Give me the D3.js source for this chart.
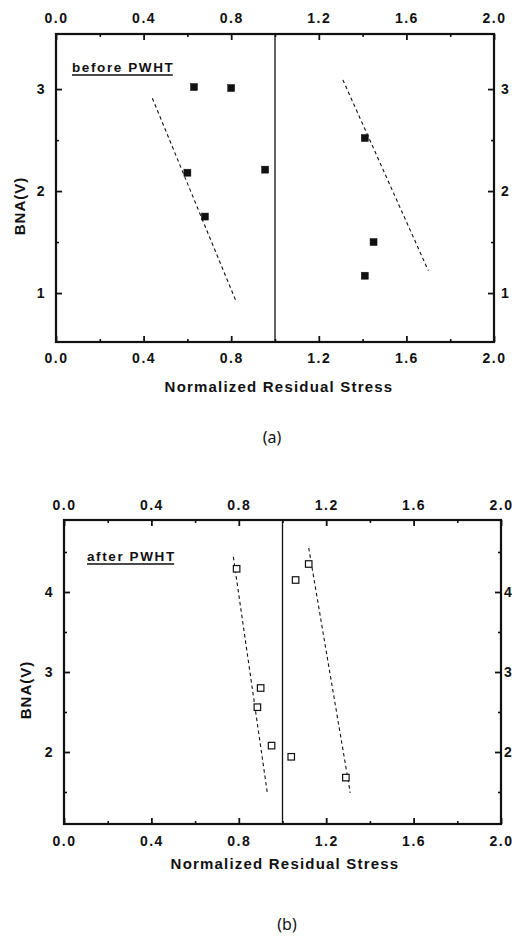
<!DOCTYPE html>
<html>
<head>
<meta charset="utf-8">
<script src="https://cdn.jsdelivr.net/npm/d3@7"></script>
<style>
  html, body { margin: 0; padding: 0; background: #fff; }
  svg { display: block; }
  .tick text { font-family: "Liberation Sans", Arial, sans-serif; font-weight: bold; font-size: 14px; letter-spacing: 1.5px; fill: #111; }
</style>
</head>
<body>
<svg id="chart" width="514" height="938"></svg>
<script>
// ---------- data ----------
const xMajorTicks = [0.0, 0.4, 0.8, 1.2, 1.6, 2.0];
const xMinorTicks = [0.2, 0.6, 1.0, 1.4, 1.8];
const xTickLabels = ["0.0", "0.4", "0.8", "1.2", "1.6", "2.0"];

// (a) before PWHT
const beforeYTicks = [1, 2, 3];
const beforeYMinor = [1.5, 2.5];
const beforeX = [0.63, 0.80, 0.60, 0.955, 0.68, 1.41, 1.45, 1.41];
const beforeY = [3.02, 3.01, 2.18, 2.21, 1.75, 2.52, 1.50, 1.17];
const beforeFitLowX = [0.44, 0.82];
const beforeFitLowY = [2.91, 0.93];
const beforeFitHighX = [1.31, 1.70];
const beforeFitHighY = [3.09, 1.22];

// (b) after PWHT
const afterYTicks = [2, 3, 4];
const afterYMinor = [1.5, 2.5, 3.5, 4.5];
const afterX = [0.79, 1.06, 1.12, 0.90, 0.885, 0.95, 1.04, 1.29];
const afterY = [4.29, 4.15, 4.35, 2.80, 2.56, 2.08, 1.94, 1.68];
const afterFitLowX = [0.775, 0.93];
const afterFitLowY = [4.44, 1.50];
const afterFitHighX = [1.12, 1.31];
const afterFitHighY = [4.55, 1.49];

const xTitle = "Normalized Residual Stress";
const yTitle = "BNA(V)";

// ---------- drawing ----------
const svg = d3.select("#chart");
const FONT = '"Liberation Sans", Arial, sans-serif';

function panel(cfg) {
  const x = d3.scaleLinear().domain([0, 2]).range([cfg.left, cfg.right]);
  const y = d3.scaleLinear().domain(cfg.yDomain).range([cfg.bottom, cfg.top]);
  const g = svg.append("g");
  const fmt = (d, i) => xTickLabels[xMajorTicks.indexOf(d)];

  // minor ticks
  const minorAxes = [
    [d3.axisBottom(x).tickValues(xMinorTicks), `translate(0,${cfg.bottom})`],
    [d3.axisTop(x).tickValues(xMinorTicks), `translate(0,${cfg.top})`],
    [d3.axisLeft(y).tickValues(cfg.yMinor), `translate(${cfg.left},0)`],
    [d3.axisRight(y).tickValues(cfg.yMinor), `translate(${cfg.right},0)`]
  ];
  minorAxes.forEach(([ax, tr]) => {
    const a = g.append("g").attr("transform", tr)
      .call(ax.tickSizeInner(-3).tickSizeOuter(0).tickFormat(""));
    a.select(".domain").remove();
    a.selectAll(".tick line").attr("stroke", "#111").attr("stroke-width", 1.6);
  });

  const xb = g.append("g").attr("transform", `translate(0,${cfg.bottom})`)
    .call(d3.axisBottom(x).tickValues(xMajorTicks).tickFormat(fmt)
      .tickSizeInner(-6).tickSizeOuter(0).tickPadding(cfg.xbPad));
  const xt = g.append("g").attr("transform", `translate(0,${cfg.top})`)
    .call(d3.axisTop(x).tickValues(xMajorTicks).tickFormat(fmt)
      .tickSizeInner(-6).tickSizeOuter(0).tickPadding(cfg.xtPad));
  const yl = g.append("g").attr("transform", `translate(${cfg.left},0)`)
    .call(d3.axisLeft(y).tickValues(cfg.yTicks).tickFormat(d3.format("d"))
      .tickSizeInner(-6).tickSizeOuter(0).tickPadding(10));
  const yr = g.append("g").attr("transform", `translate(${cfg.right},0)`)
    .call(d3.axisRight(y).tickValues(cfg.yTicks).tickFormat(d3.format("d"))
      .tickSizeInner(-6).tickSizeOuter(0).tickPadding(cfg.yrPad));
  [xb, xt, yl, yr].forEach(a => {
    a.select(".domain").remove();
    a.selectAll(".tick line").attr("stroke", "#111").attr("stroke-width", 1.8);
    a.attr("font-family", null).attr("font-size", null);
  });
  yr.selectAll(".tick text").style("letter-spacing", "0px");

  // frame
  g.append("rect")
    .attr("x", cfg.left).attr("y", cfg.top)
    .attr("width", cfg.right - cfg.left).attr("height", cfg.bottom - cfg.top)
    .attr("fill", "none").attr("stroke", "#111").attr("stroke-width", 2.2);

  // vertical reference line at x = 1.0
  g.append("line")
    .attr("x1", x(1)).attr("x2", x(1))
    .attr("y1", cfg.top).attr("y2", cfg.bottom)
    .attr("stroke", "#111").attr("stroke-width", 1.3);

  // dashed fit lines
  const line = d3.line().x(d => x(d[0])).y(d => y(d[1]));
  cfg.fits.forEach(f => {
    g.append("path")
      .attr("d", line(d3.zip(f[0], f[1])))
      .attr("fill", "none").attr("stroke", "#111")
      .attr("stroke-width", 1.1).attr("stroke-dasharray", "3.5,3");
  });

  // markers
  const s = cfg.filled ? 7 : 6.5;
  g.selectAll("rect.pt").data(d3.zip(cfg.xs, cfg.ys)).enter()
    .append("rect").attr("class", "pt")
    .attr("x", d => x(d[0]) - s / 2).attr("y", d => y(d[1]) - s / 2)
    .attr("width", s).attr("height", s)
    .attr("fill", cfg.filled ? "#111" : "#fff")
    .attr("stroke", "#111").attr("stroke-width", cfg.filled ? 0.5 : 1.2);

  // in-plot label with underline
  const lbl = g.append("text")
    .attr("x", cfg.labelX).attr("y", cfg.labelY)
    .attr("font-family", FONT).attr("font-size", 13.5).attr("font-weight", "bold")
    .attr("letter-spacing", "1.6px").attr("fill", "#111")
    .text(cfg.label);
  const bb = lbl.node().getBBox();
  g.append("line")
    .attr("x1", cfg.labelX).attr("x2", cfg.labelX + bb.width - 1.6)
    .attr("y1", cfg.labelY + 3).attr("y2", cfg.labelY + 3)
    .attr("stroke", "#111").attr("stroke-width", 1.3);

  // axis titles
  g.append("text")
    .attr("x", cfg.xTitleX).attr("y", cfg.xTitleY)
    .attr("text-anchor", "middle")
    .attr("font-family", FONT).attr("font-size", 15).attr("font-weight", "bold")
    .attr("letter-spacing", "1.2px").attr("fill", "#111")
    .text(xTitle);
  g.append("text")
    .attr("transform", `translate(${cfg.yTitleX},${cfg.yTitleY}) rotate(-90)`)
    .attr("text-anchor", "middle")
    .attr("font-family", FONT).attr("font-size", 15).attr("font-weight", "bold")
    .attr("letter-spacing", "1px").attr("fill", "#111")
    .text(yTitle);

  // panel caption
  g.append("text")
    .attr("x", cfg.capX).attr("y", cfg.capY)
    .attr("text-anchor", "middle")
    .attr("font-family", '"Noto Sans", "DejaVu Sans", sans-serif').attr("font-size", 16)
    .attr("fill", "#111")
    .text(cfg.caption);
}

panel({
  left: 56, right: 494, top: 34, bottom: 342,
  yDomain: [0.52, 3.54], yTicks: beforeYTicks, yMinor: beforeYMinor,
  xbPad: 11, xtPad: 11, yrPad: 7,
  xs: beforeX, ys: beforeY, filled: true,
  fits: [[beforeFitLowX, beforeFitLowY], [beforeFitHighX, beforeFitHighY]],
  label: "before PWHT", labelX: 72, labelY: 72,
  xTitleX: 279, xTitleY: 392, yTitleX: 25, yTitleY: 206,
  caption: "(a)", capX: 272, capY: 443
});

panel({
  left: 64, right: 501, top: 520, bottom: 824,
  yDomain: [1.1, 4.9], yTicks: afterYTicks, yMinor: afterYMinor,
  xbPad: 12, xtPad: 10, yrPad: 3,
  xs: afterX, ys: afterY, filled: false,
  fits: [[afterFitLowX, afterFitLowY], [afterFitHighX, afterFitHighY]],
  label: "after PWHT", labelX: 87, labelY: 561,
  xTitleX: 285, xTitleY: 869, yTitleX: 31, yTitleY: 690,
  caption: "(b)", capX: 287, capY: 930
});
</script>
</body>
</html>
